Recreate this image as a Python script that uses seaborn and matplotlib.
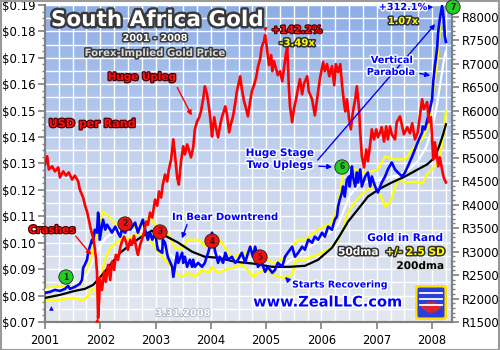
import numpy as np
import matplotlib
matplotlib.use("Agg")
import matplotlib.pyplot as plt
import matplotlib.patheffects as pe
from matplotlib.colors import LinearSegmentedColormap
from matplotlib.patches import FancyBboxPatch, Wedge, Rectangle
from matplotlib.ticker import MultipleLocator
import seaborn as sns

# ---------------- data ----------------
# USD per Rand (left axis)
usd_year = [2001.00, 2001.04, 2001.07, 2001.13, 2001.18, 2001.24, 2001.27, 2001.33, 2001.38, 2001.43,
            2001.49, 2001.54, 2001.60, 2001.63, 2001.69, 2001.72, 2001.76, 2001.80, 2001.83, 2001.87,
            2001.90, 2001.92, 2001.94, 2001.96, 2001.98, 2001.99, 2002.03, 2002.07, 2002.10, 2002.14,
            2002.18, 2002.21, 2002.25, 2002.28, 2002.32, 2002.36, 2002.39, 2002.43, 2002.47, 2002.50,
            2002.54, 2002.57, 2002.61, 2002.65, 2002.68, 2002.72, 2002.75, 2002.79, 2002.83, 2002.86,
            2002.90, 2002.94, 2002.99, 2003.03, 2003.06, 2003.10, 2003.13, 2003.17, 2003.21, 2003.24,
            2003.28, 2003.32, 2003.35, 2003.39, 2003.42, 2003.46, 2003.50, 2003.53, 2003.57, 2003.60,
            2003.64, 2003.68, 2003.71, 2003.75, 2003.79, 2003.82, 2003.86, 2003.89, 2003.93, 2003.97,
            2004.00, 2004.02, 2004.06, 2004.09, 2004.13, 2004.17, 2004.20, 2004.26, 2004.29, 2004.33,
            2004.36, 2004.40, 2004.44, 2004.47, 2004.53, 2004.56, 2004.60, 2004.63, 2004.67, 2004.71,
            2004.74, 2004.78, 2004.82, 2004.85, 2004.89, 2004.92, 2004.96, 2004.98, 2005.01, 2005.05,
            2005.09, 2005.11, 2005.14, 2005.18, 2005.21, 2005.25, 2005.29, 2005.32, 2005.36, 2005.38,
            2005.41, 2005.43, 2005.47, 2005.50, 2005.54, 2005.58, 2005.61, 2005.65, 2005.68, 2005.74,
            2005.77, 2005.83, 2005.88, 2005.92, 2005.97, 2006.03, 2006.06, 2006.10, 2006.14, 2006.19,
            2006.23, 2006.26, 2006.30, 2006.34, 2006.37, 2006.41, 2006.43, 2006.46, 2006.50, 2006.53,
            2006.57, 2006.61, 2006.64, 2006.68, 2006.70, 2006.73, 2006.77, 2006.81, 2006.84, 2006.88,
            2006.91, 2006.95, 2006.99, 2007.02, 2007.06, 2007.09, 2007.13, 2007.17, 2007.20, 2007.24,
            2007.27, 2007.33, 2007.36, 2007.42, 2007.46, 2007.49, 2007.55, 2007.60, 2007.64, 2007.69,
            2007.74, 2007.78, 2007.82, 2007.85, 2007.91, 2007.94, 2007.98, 2008.02, 2008.05, 2008.09,
            2008.11, 2008.14, 2008.18, 2008.21, 2008.25]
usd_per_rand = [0.1296, 0.1327, 0.1277, 0.1289, 0.1270, 0.1285, 0.1247, 0.1270, 0.1254, 0.1266,
                0.1239, 0.1254, 0.1232, 0.1201, 0.1171, 0.1144, 0.1118, 0.1080, 0.1049, 0.1019,
                0.0981, 0.0943, 0.0890, 0.0715, 0.0783, 0.0867, 0.0821, 0.0890, 0.0852, 0.0916,
                0.0859, 0.0928, 0.0897, 0.0954, 0.0935, 0.0981, 0.1004, 0.1023, 0.1000, 0.0973,
                0.1011, 0.0992, 0.1026, 0.0981, 0.0954, 0.0992, 0.1011, 0.1038, 0.1080, 0.1068,
                0.1114, 0.1095, 0.1163, 0.1140, 0.1194, 0.1171, 0.1220, 0.1258, 0.1232, 0.1277,
                0.1315, 0.1391, 0.1334, 0.1247, 0.1220, 0.1308, 0.1365, 0.1334, 0.1372, 0.1353,
                0.1323, 0.1361, 0.1429, 0.1459, 0.1475, 0.1497, 0.1543, 0.1592, 0.1562, 0.1505,
                0.1448, 0.1402, 0.1475, 0.1437, 0.1399, 0.1448, 0.1475, 0.1516, 0.1486, 0.1418,
                0.1448, 0.1478, 0.1528, 0.1573, 0.1630, 0.1581, 0.1535, 0.1513, 0.1478, 0.1535,
                0.1573, 0.1596, 0.1627, 0.1665, 0.1695, 0.1741, 0.1763, 0.1786, 0.1741, 0.1672,
                0.1710, 0.1649, 0.1687, 0.1657, 0.1634, 0.1649, 0.1611, 0.1657, 0.1720, 0.1741,
                0.1589, 0.1516, 0.1456, 0.1505, 0.1543, 0.1589, 0.1619, 0.1562, 0.1600, 0.1630,
                0.1573, 0.1543, 0.1482, 0.1543, 0.1619, 0.1684, 0.1649, 0.1676, 0.1630, 0.1668,
                0.1596, 0.1676, 0.1646, 0.1676, 0.1600, 0.1524, 0.1497, 0.1543, 0.1467, 0.1429,
                0.1497, 0.1543, 0.1592, 0.1505, 0.1418, 0.1327, 0.1285, 0.1353, 0.1308, 0.1372,
                0.1429, 0.1391, 0.1429, 0.1399, 0.1418, 0.1437, 0.1383, 0.1440, 0.1391, 0.1440,
                0.1410, 0.1391, 0.1456, 0.1478, 0.1440, 0.1410, 0.1437, 0.1414, 0.1452, 0.1391,
                0.1418, 0.1482, 0.1543, 0.1505, 0.1532, 0.1456, 0.1475, 0.1315, 0.1380, 0.1327,
                0.1289, 0.1323, 0.1277, 0.1247, 0.1228]

# Gold price in Rand (right axis)
gold_year = [2001.00, 2001.09, 2001.18, 2001.27, 2001.36, 2001.42, 2001.45, 2001.54, 2001.60, 2001.63,
             2001.67, 2001.69, 2001.72, 2001.76, 2001.78, 2001.81, 2001.85, 2001.87, 2001.90, 2001.94,
             2001.96, 2001.98, 2001.99, 2002.03, 2002.05, 2002.09, 2002.12, 2002.18, 2002.21, 2002.27,
             2002.32, 2002.36, 2002.39, 2002.45, 2002.50, 2002.54, 2002.63, 2002.68, 2002.72, 2002.77,
             2002.81, 2002.86, 2002.90, 2002.94, 2002.99, 2003.04, 2003.12, 2003.13, 2003.17, 2003.22,
             2003.30, 2003.32, 2003.35, 2003.39, 2003.41, 2003.48, 2003.50, 2003.53, 2003.57, 2003.62,
             2003.66, 2003.68, 2003.71, 2003.77, 2003.84, 2003.89, 2003.95, 2003.98, 2004.02, 2004.04,
             2004.07, 2004.13, 2004.16, 2004.22, 2004.26, 2004.31, 2004.38, 2004.44, 2004.49, 2004.56,
             2004.62, 2004.65, 2004.71, 2004.74, 2004.76, 2004.80, 2004.83, 2004.85, 2004.92, 2004.98,
             2005.03, 2005.11, 2005.16, 2005.21, 2005.29, 2005.34, 2005.39, 2005.47, 2005.52, 2005.58,
             2005.65, 2005.70, 2005.76, 2005.83, 2005.88, 2005.94, 2006.01, 2006.06, 2006.12, 2006.19,
             2006.24, 2006.28, 2006.30, 2006.33, 2006.37, 2006.39, 2006.42, 2006.46, 2006.50, 2006.51,
             2006.55, 2006.57, 2006.61, 2006.64, 2006.66, 2006.70, 2006.73, 2006.79, 2006.84, 2006.88,
             2006.91, 2006.97, 2007.02, 2007.09, 2007.15, 2007.20, 2007.27, 2007.33, 2007.38, 2007.46,
             2007.51, 2007.56, 2007.64, 2007.69, 2007.74, 2007.82, 2007.83, 2007.87, 2007.93, 2008.00,
             2008.02, 2008.05, 2008.09, 2008.11, 2008.14, 2008.18, 2008.21, 2008.23, 2008.25]
gold_rand = [2120, 2141, 2184, 2162, 2205, 2269, 2205, 2248, 2290, 2312,
             2397, 2654, 2718, 2825, 2974, 3102, 3252, 3188, 3465, 3401,
             3828, 3572, 3252, 3530, 3679, 3465, 3572, 3465, 3401, 3530,
             3401, 3316, 3465, 3401, 3530, 3465, 3615, 3401, 3530, 3679,
             3465, 3252, 3401, 3252, 3401, 3038, 2974, 3252, 3188, 2889,
             2675, 2461, 2675, 2974, 2760, 2974, 2760, 2889, 2675, 2825,
             2675, 2825, 2675, 2760, 2675, 2760, 2974, 3102, 3401, 3294,
             3038, 2760, 2889, 2760, 2974, 2825, 2889, 2760, 2825, 2974,
             2760, 2889, 3102, 2974, 2889, 3102, 2974, 2675, 2760, 2568,
             2675, 2547, 2611, 2760, 2675, 2889, 2974, 3102, 2889, 2974,
             3102, 3038, 3252, 3188, 3316, 3252, 3401, 3316, 3530, 3465,
             3679, 3743, 3957, 4106, 4256, 4384, 4170, 4533, 4597, 4384,
             4811, 4597, 4384, 4683, 4469, 4747, 4384, 4597, 4683, 4384,
             4597, 4384, 4256, 4469, 4597, 4747, 4896, 4747, 4683, 4597,
             4683, 4811, 5025, 5174, 5324, 5537, 5665, 5601, 5879, 6242,
             6605, 6947, 7310, 7673, 7951, 8229, 7951, 7588, 7460]

# 50-day moving average of gold in Rand
dma50_year = [2001.00, 2001.27, 2001.54, 2001.67, 2001.78, 2001.89, 2001.99, 2002.10, 2002.23, 2002.39,
              2002.57, 2002.75, 2002.90, 2003.04, 2003.19, 2003.33, 2003.48, 2003.66, 2003.84, 2003.98,
              2004.13, 2004.31, 2004.53, 2004.71, 2004.89, 2005.07, 2005.25, 2005.43, 2005.61, 2005.79,
              2005.97, 2006.15, 2006.30, 2006.41, 2006.51, 2006.66, 2006.84, 2007.02, 2007.20, 2007.38,
              2007.56, 2007.74, 2007.89, 2008.00, 2008.09, 2008.16, 2008.21, 2008.25]
dma50 = [2184, 2205, 2248, 2333, 2568, 2867, 3102, 3294, 3401, 3444,
         3465, 3444, 3337, 3166, 3017, 2867, 2825, 2782, 2760, 2868,
         2974, 2868, 2803, 2846, 2782, 2654, 2654, 2803, 2974, 3102,
         3252, 3401, 3572, 3892, 4191, 4405, 4490, 4512, 4576, 4619,
         4726, 4918, 5217, 5601, 6135, 6669, 7054, 7267]

# 200-day moving average of gold in Rand
dma200_year = [2001.00, 2001.27, 2001.54, 2001.72, 2001.87, 2001.99, 2002.18, 2002.36, 2002.54, 2002.72,
               2002.93, 2003.17, 2003.41, 2003.66, 2003.89, 2004.13, 2004.44, 2004.80, 2005.10, 2005.43,
               2005.70, 2005.94, 2006.19, 2006.33, 2006.48, 2006.66, 2006.84, 2007.06, 2007.27, 2007.51,
               2007.74, 2007.91, 2008.05, 2008.14, 2008.20, 2008.25]
dma200 = [2013, 2077, 2162, 2205, 2290, 2440, 2718, 2974, 3145, 3294,
          3444, 3337, 3188, 2996, 2889, 2868, 2782, 2739, 2675, 2675,
          2696, 2825, 3081, 3337, 3636, 3900, 4170, 4341, 4469, 4597,
          4747, 4854, 5003, 5281, 5495, 5708]

# +/- 2.5 standard deviation bands
band_hi_year = [2001.00, 2001.27, 2001.54, 2001.67, 2001.74, 2001.81, 2001.90, 2001.99, 2002.05, 2002.14,
                2002.27, 2002.39, 2002.57, 2002.75, 2002.90, 2003.01, 2003.12, 2003.22, 2003.35, 2003.48,
                2003.59, 2003.77, 2003.89, 2004.02, 2004.13, 2004.26, 2004.38, 2004.53, 2004.71, 2004.85,
                2004.98, 2005.16, 2005.34, 2005.47, 2005.58, 2005.70, 2005.94, 2006.19, 2006.30, 2006.37,
                2006.42, 2006.55, 2006.70, 2006.84, 2007.02, 2007.15, 2007.33, 2007.51, 2007.64, 2007.82,
                2007.93, 2008.00, 2008.09, 2008.14, 2008.18, 2008.21, 2008.25]
band_hi = [2226, 2248, 2269, 2312, 2504, 2782, 3209, 3636, 3850, 3764,
           3593, 3508, 3530, 3593, 3722, 3551, 3337, 3380, 3081, 3081,
           3252, 3252, 3124, 3252, 3294, 3081, 2868, 2953, 2974, 2953,
           2825, 2760, 2889, 3102, 3252, 3252, 3465, 3615, 3999, 4533,
           4811, 4790, 4704, 4683, 4747, 5025, 4961, 4961, 5174, 5388,
           5665, 6242, 6947, 7673, 8229, 8592, 8912]

band_lo_year = [2001.00, 2001.27, 2001.54, 2001.67, 2001.78, 2001.85, 2001.92, 2001.96, 2001.99, 2002.07,
                2002.18, 2002.36, 2002.54, 2002.68, 2002.81, 2002.93, 2003.12, 2003.22, 2003.35, 2003.48,
                2003.59, 2003.71, 2003.84, 2003.95, 2004.02, 2004.13, 2004.26, 2004.44, 2004.56, 2004.67,
                2004.76, 2004.85, 2004.98, 2005.10, 2005.21, 2005.34, 2005.47, 2005.54, 2005.70, 2005.83,
                2006.01, 2006.19, 2006.30, 2006.39, 2006.46, 2006.55, 2006.64, 2006.73, 2006.84, 2006.97,
                2007.06, 2007.15, 2007.24, 2007.38, 2007.51, 2007.69, 2007.82, 2007.93, 2008.05, 2008.14,
                2008.20, 2008.25]
band_lo = [1970, 1970, 2013, 1949, 2056, 2226, 2141, 1970, 2290, 2782,
           3081, 3252, 3294, 3401, 3337, 3188, 2889, 2760, 2547, 2461,
           2547, 2461, 2611, 2547, 2675, 2547, 2611, 2675, 2718, 2611,
           2461, 2547, 2611, 2547, 2461, 2440, 2504, 2825, 2825, 2889,
           2974, 3102, 3252, 3465, 3786, 3957, 4106, 4213, 4320, 4384,
           4213, 3957, 4042, 4533, 4469, 4490, 4448, 4683, 4811, 5003,
           5431, 5986]

year_ticks = [2001, 2002, 2003, 2004, 2005, 2006, 2007, 2008]
usd_ticks = [0.07, 0.08, 0.09, 0.10, 0.11, 0.12, 0.13, 0.14, 0.15, 0.16, 0.17, 0.18, 0.19]
rand_ticks = [1500, 2000, 2500, 3000, 3500, 4000, 4500, 5000, 5500, 6000, 6500, 7000, 7500, 8000]

# ---------------- figure ----------------
W, H = 500, 350
fig = plt.figure(figsize=(5, 3.5), dpi=100)
fig.patch.set_facecolor("white")
ax = fig.add_axes([0.09, 0.08, 0.814, 0.906])

XMIN, XMAX = 2001.0, 2008.36
grey = "#808080"

# sky-like gradient background
cmap = LinearSegmentedColormap.from_list("bg", ["#e4e8f0", "#c6d4ee", "#8cade6"])
grad = np.linspace(0, 1, 256).reshape(-1, 1)
ax.imshow(grad, cmap=cmap, origin="lower", extent=[0, 1, 0, 1],
          transform=ax.transAxes, aspect="auto", zorder=0)

ax.set_xlim(XMIN, XMAX)
ax.set_ylim(0.07, 0.19)

# white grid
for v in np.arange(0.07, 0.1901, 0.005):
    ax.axhline(v, color="white", lw=1.0, zorder=1)
for q in np.arange(2001.25, XMAX, 0.25):
    ax.axvline(q, color="white", lw=1.0, zorder=1)

ax.set_yticks(usd_ticks)
ax.set_yticklabels([f"${t:.2f}" for t in usd_ticks])
ax.yaxis.set_minor_locator(MultipleLocator(0.0025))
ax.set_xticks(year_ticks)
ax.set_xticklabels([str(y) for y in year_ticks])
ax.tick_params(axis="y", which="major", length=5, width=1.2, color=grey, labelsize=8.5, pad=2)
ax.tick_params(axis="y", which="minor", length=2.5, width=1, color=grey)
ax.tick_params(axis="x", which="major", length=5, width=1.2, color=grey, labelsize=8.3, pad=4)
for s in ["left", "bottom", "right"]:
    ax.spines[s].set_color(grey)
    ax.spines[s].set_linewidth(1.5)
ax.spines["top"].set_visible(False)

# right axis: gold in Rand
ax2 = ax.twinx()
ax2.set_ylim(1500, 8250)
sns.lineplot(x=band_hi_year, y=band_hi, ax=ax2, color="#ffff00", lw=1.6, zorder=2)
sns.lineplot(x=band_lo_year, y=band_lo, ax=ax2, color="#ffff00", lw=1.6, zorder=2)
sns.lineplot(x=dma50_year, y=dma50, ax=ax2, color="white", lw=1.6, zorder=3)
sns.lineplot(x=dma200_year, y=dma200, ax=ax2, color="black", lw=1.6, zorder=3)
sns.lineplot(x=gold_year, y=gold_rand, ax=ax2, color="#0000ff", lw=1.9, zorder=4)
ax2.set_xlim(XMIN, XMAX)
ax2.set_ylim(1500, 8250)
ax2.set_yticks(rand_ticks)
ax2.set_yticklabels([f"R{t}" for t in rand_ticks])
ax2.yaxis.set_minor_locator(MultipleLocator(100))
ax2.tick_params(axis="y", which="major", length=5, width=1.2, color=grey, labelsize=8.5, pad=2)
ax2.tick_params(axis="y", which="minor", length=2.5, width=1, color=grey)
ax2.set_ylabel("")
ax2.set_xlabel("")
for s in ["left", "bottom", "right"]:
    ax2.spines[s].set_color(grey)
    ax2.spines[s].set_linewidth(1.5)
ax2.spines["top"].set_visible(False)

# red exchange-rate line on top, sharing the left scale
ax3 = ax.twinx()
ax3.set_ylim(0.07, 0.19)
sns.lineplot(x=usd_year, y=usd_per_rand, ax=ax3, color="#ff0000", lw=1.9, zorder=5)
ax3.set_xlim(XMIN, XMAX)
ax3.set_ylim(0.07, 0.19)
ax3.axis("off")
ax.set_xlabel("")
ax.set_ylabel("")


# ---------------- annotations ----------------
def fx(x):
    return x / W


def fy(y):
    return 1 - y / H


def label(x, y, s, size, color, edge=None, ew=2.0, ha="center", weight="bold"):
    t = fig.text(fx(x), fy(y), s, fontsize=size, color=color, ha=ha, va="center",
                 fontweight=weight, zorder=20)
    if edge is not None:
        t.set_path_effects([pe.withStroke(linewidth=ew, foreground=edge)])
    return t


def arrow(x0, y0, x1, y1, color, lw=1.0, head=True):
    style = "-|>" if head else "-"
    fig.add_artist(matplotlib.patches.FancyArrowPatch(
        (fx(x0), fy(y0)), (fx(x1), fy(y1)), transform=fig.transFigure,
        arrowstyle=style, mutation_scale=7, color=color, lw=lw, zorder=19))


title = fig.text(fx(157), fy(20), "South Africa Gold", fontsize=15.5, color="white",
                 fontweight="bold", ha="center", va="center", zorder=20)
title.set_path_effects([pe.withStroke(linewidth=3.5, foreground="#3a3a3a")])
label(155, 38, "2001 - 2008", 7, "white", "#3a3a3a", 2.2)
label(155, 53, "Forex-Implied Gold Price", 7.3, "#d9d9d9", "#3a3a3a", 2.2)

label(142, 77, "Huge Upleg", 7.5, "#ff1010", "#500000", 1.8)
arrow(176, 85, 193, 118, "#ff0000")
label(92, 124, "USD per Rand", 8, "#ff1010", "#500000", 1.8)
label(52, 230, "Crashes", 7.5, "#ff1010", "#500000", 1.8)
arrow(74, 234, 93, 257, "#ff0000")

label(225, 217, "In Bear Downtrend", 7.2, "#0000ff", "white", 2.0)
arrow(188, 222, 181, 241, "#0000ff")
label(340, 285, "Starts Recovering", 6.8, "#0000ff", "white", 2.0)
arrow(290, 282, 283, 275, "#0000ff")
label(280, 153, "Huge Stage", 7.5, "#0000ff", "white", 2.0)
label(280, 165, "Two Uplegs", 7.5, "#0000ff", "white", 2.0)
arrow(316, 166, 335, 167, "#0000ff")
arrow(316, 162, 437, 22, "#0000ff")
label(392, 60, "Vertical", 7, "#0000ff", "white", 2.0)
label(391, 72, "Parabola", 7, "#0000ff", "white", 2.0)
arrow(417, 73, 433, 76, "#0000ff")

label(403, 7, "+312.1%", 7, "#0000ff", "white", 2.0)
label(431, 7, "\u25B6", 5, "#0000ff")
label(403, 21, "1.07x", 7, "#ffff00", "#303030", 2.2)
label(297, 30, "+142.2%", 7.3, "#ff1010", "#500000", 1.8)
label(297, 43, "-3.49x", 7.3, "#ffff00", "#303030", 2.2)
label(265, 30, "\u25BC", 4.5, "#ff0000")
label(51, 309, "\u25B2", 4.5, "#0000ff")
label(97, 321, "\u25B2", 4.5, "#ff0000")

label(183, 313, "3.31.2008", 7, "white", "#b0b8c8", 1.2)
label(405, 238, "Gold in Rand", 7.6, "#0000ff", "white", 2.0)
label(358, 252, "50dma", 7.6, "white", "#303030", 2.2)
label(415, 252, "+/- 2.5 SD", 7.6, "#ffff00", "#303030", 2.2)
label(420, 266, "200dma", 7.6, "black", "#e0e0e0", 2.2)
label(328, 302, "www.ZealLLC.com", 10.5, "#0000ff", "white", 2.4)

# numbered event markers
events = [(66, 277, "1", "#22cc22"), (125, 224, "2", "#ee1111"), (160, 232, "3", "#ee1111"),
          (212, 241, "4", "#ee1111"), (260, 257, "5", "#ee1111"), (342, 167, "6", "#22cc22"),
          (453, 7, "7", "#22cc22")]
for x, y, n, c in events:
    fig.text(fx(x), fy(y), n, fontsize=5.5, color="#202020", ha="center", va="center",
             fontweight="bold", zorder=21,
             bbox=dict(boxstyle="circle,pad=0.35", fc=c, ec="#202020", lw=0.6))

# logo badge
lax = fig.add_axes([fx(415), fy(320), 32 / W, 35 / H])
lax.set_xlim(0, 32)
lax.set_ylim(0, 35)
lax.axis("off")
lax.add_patch(FancyBboxPatch((1.5, 1.5), 29, 32, boxstyle="round,pad=0.5,rounding_size=3",
                             fc="#2b3ed6", ec="#ffe000", lw=2.2))
for yy in (27, 21, 15):
    lax.plot([5, 27], [yy, yy], color="white", lw=1.3)
for k in range(6):
    lax.add_patch(Wedge((16, 6), 12, 30 + k * 20, 48 + k * 20, fc="#ee2222", ec="none"))

# outer frame
fig.add_artist(Rectangle((0.001, 0.001), 0.997, 0.997, transform=fig.transFigure,
                         fill=False, ec="#9a9a9a", lw=1.5))

fig.savefig("out.png", dpi=100)
